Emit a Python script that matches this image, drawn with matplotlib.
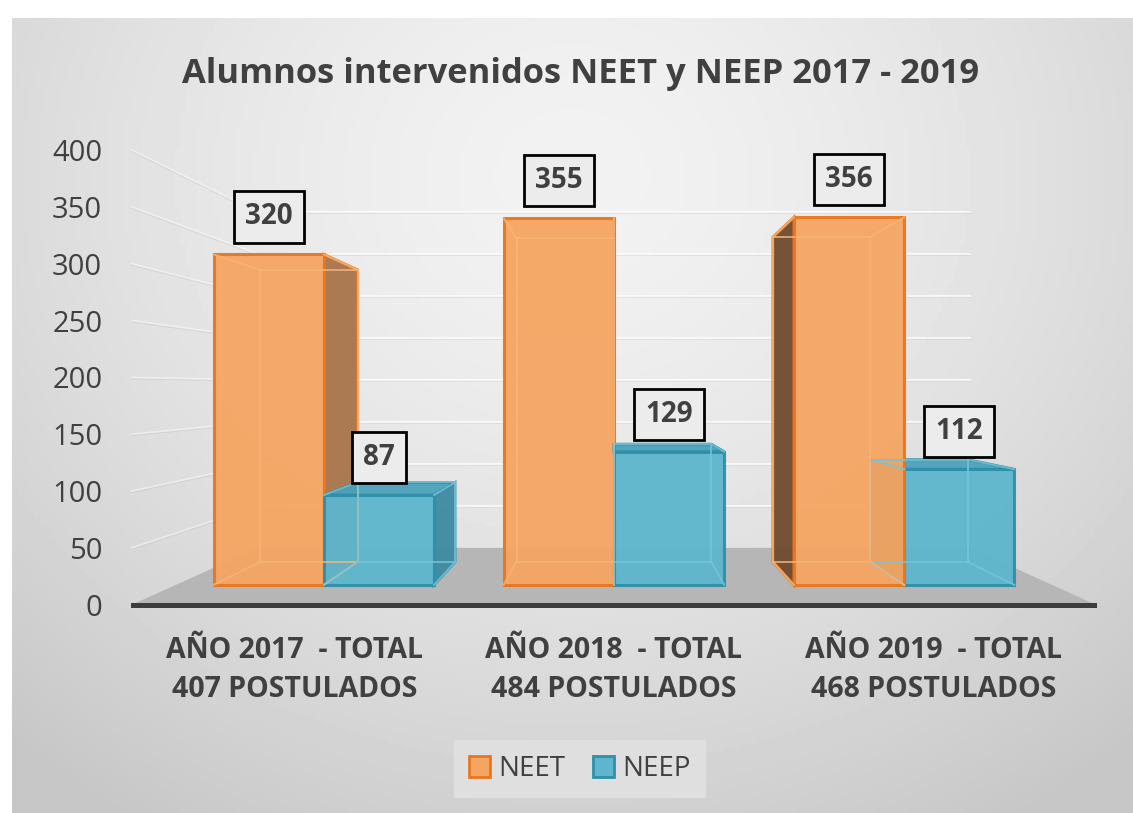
import numpy as np
import matplotlib
matplotlib.use('Agg')
import matplotlib.pyplot as plt
from matplotlib.patches import Polygon, Patch

plt.rcParams['font.family'] = ['Open Sans', 'DejaVu Sans']

categories = ['AÑO 2017  - TOTAL\n407 POSTULADOS',
              'AÑO 2018  - TOTAL\n484 POSTULADOS',
              'AÑO 2019  - TOTAL\n468 POSTULADOS']
series = ['NEET', 'NEEP']
neet = [320, 355, 356]
neep = [87, 129, 112]
yticks = [0, 50, 100, 150, 200, 250, 300, 350, 400]
title = 'Alumnos intervenidos NEET y NEEP 2017 - 2019'

# perspective setup (front plane = axes data coords)
VPX, VPY = 1.0, 191.6
F_FRONT, F_BACK, F_WALL = 0.908, 0.802, 0.738
BAR_W = 0.38
XMIN, XMAX = -0.51, 2.51

colors = {
    'NEET': dict(face='#f5a562', edge='#e8761e', right='#a9744a', left='#6e4b30', top='#e8944e', inner='#f7b577'),
    'NEEP': dict(face='#5db6cd', edge='#2f8faa', right='#3d8aa1', left='#2f6f82', top='#4aa2ba', inner='#78c4d8'),
}


def proj(x, y, f):
    return (VPX + (x - VPX) * f, VPY + (y - VPY) * f)


fig = plt.figure(figsize=(11.33, 8.13), dpi=100)
fig.patch.set_facecolor('white')

# background panel with soft radial gradient
bg = fig.add_axes([12 / 1133, 0, 1 - 12 / 1133, 1 - 18 / 813])
gy, gx = np.mgrid[0:1:200j, 0:1:200j]
r = np.sqrt(((gx - 0.5) / 0.75) ** 2 + ((gy - 0.2) / 0.95) ** 2)
shade = 0.95 - 0.17 * np.clip(r, 0, 1) ** 1.5
bg.imshow(shade, cmap='gray', vmin=0, vmax=1, aspect='auto', extent=[0, 1, 1, 0])
bg.set_axis_off()

ax = fig.add_axes([0.116, 0.2279, 0.8518, 0.6296])
ax.patch.set_alpha(0)
ax.set_xlim(XMIN, XMAX)
ax.set_ylim(-20, 430)
for s in ax.spines.values():
    s.set_visible(False)

# floor
floor = [proj(XMIN, 0, 1), proj(XMAX, 0, 1), proj(XMAX, 0, F_WALL), proj(XMIN, 0, F_WALL)]
ax.add_patch(Polygon(floor, closed=True, facecolor='#b6b6b6', edgecolor='none', zorder=1))

# wall gridlines
for v in yticks[1:]:
    pts = [proj(XMIN, v, 1), proj(XMIN, v, F_WALL), proj(XMAX, v, F_WALL)]
    xs, ys = zip(*pts)
    ax.plot(xs[1:], ys[1:], color='white', alpha=0.7, lw=1.6, zorder=0.5)
    ax.plot(xs[:2], ys[:2], color='white', alpha=0.45, lw=1.4, zorder=0.5)
    ax.plot(xs, [y - 1.0 for y in ys], color='#b0b0b0', alpha=0.3, lw=1.0, zorder=0.4)

ax.plot([XMIN, XMAX], [0, 0], color='#3d3d3d', lw=3.6, solid_capstyle='round', zorder=2)


def draw_bar(x0, x1, h, c):
    fa = lambda x, y: proj(x, y, F_FRONT)
    fb = lambda x, y: proj(x, y, F_BACK)
    # visible side faces
    if x1 < VPX:
        side = [fa(x1, 0), fa(x1, h), fb(x1, h), fb(x1, 0)]
        ax.add_patch(Polygon(side, facecolor=c['right'], edgecolor=c['edge'], lw=2, alpha=0.95, zorder=3))
    if x0 > VPX:
        side = [fa(x0, 0), fa(x0, h), fb(x0, h), fb(x0, 0)]
        ax.add_patch(Polygon(side, facecolor=c['left'], edgecolor=c['edge'], lw=2, alpha=0.95, zorder=3))
    if h < VPY:
        top = [fa(x0, h), fa(x1, h), fb(x1, h), fb(x0, h)]
        ax.add_patch(Polygon(top, facecolor=c['top'], edgecolor=c['edge'], lw=2, alpha=0.95, zorder=3))
    front = [fa(x0, 0), fa(x1, 0), fa(x1, h), fa(x0, h)]
    ax.add_patch(Polygon(front, facecolor=c['face'], edgecolor=c['edge'], lw=2.2, alpha=0.95, zorder=3))
    # inner (hidden) edges seen through the translucent box
    back = [fb(x0, 0), fb(x1, 0), fb(x1, h), fb(x0, h), fb(x0, 0)]
    bx, by = zip(*back)
    ax.plot(bx, by, color=c['inner'], lw=1.4, alpha=0.8, zorder=3.1)
    for xx, yy in [(x0, 0), (x1, 0), (x0, h), (x1, h)]:
        p, q = fa(xx, yy), fb(xx, yy)
        ax.plot([p[0], q[0]], [p[1], q[1]], color=c['inner'], lw=1.4, alpha=0.8, zorder=3.1)
    # value label
    tx, ty = fa((x0 + x1) / 2, h)
    ax.annotate(str(h), (tx, ty), xytext=(0, 27), textcoords='offset points',
                ha='center', va='center', fontsize=20, fontweight='bold', color='#404040',
                bbox=dict(boxstyle='square,pad=0.4', facecolor='#ececec', edgecolor='black', lw=2),
                zorder=5)


for i in range(len(categories)):
    bars = [(i - BAR_W, i, neet[i], colors['NEET']), (i, i + BAR_W, neep[i], colors['NEEP'])]
    # draw bars farther from the vanishing point first
    bars.sort(key=lambda b: -min(abs(b[0] - VPX), abs(b[1] - VPX)))
    for b in bars:
        draw_bar(*b)

ax.set_yticks(yticks)
ax.set_yticklabels([str(v) for v in yticks], fontsize=21, color='#404040')
ax.set_xticks(range(len(categories)))
ax.set_xticklabels(categories, fontsize=20.5, fontweight='bold', color='#404040', linespacing=1.43)
ax.tick_params(axis='y', length=0, pad=21)
ax.tick_params(axis='x', length=0, pad=6)

fig.text(0.512, 0.909, title, ha='center', va='center', fontsize=24.8, fontweight='bold', color='#404040')

handles = [Patch(facecolor=colors[s]['face'], edgecolor=colors[s]['edge'], lw=2) for s in series]
leg = fig.legend(handles, series, loc='center', bbox_to_anchor=(0.512, 0.054), ncol=2,
                 fontsize=20, frameon=True, fancybox=False, handlelength=0.75, handleheight=0.75,
                 handletextpad=0.3, columnspacing=1.0, borderpad=0.55)
leg.get_frame().set_facecolor('#dfdfdf')
leg.get_frame().set_edgecolor('none')
leg.get_frame().set_alpha(1)
for t in leg.get_texts():
    t.set_color('#404040')

fig.savefig('out.png', dpi=100)
